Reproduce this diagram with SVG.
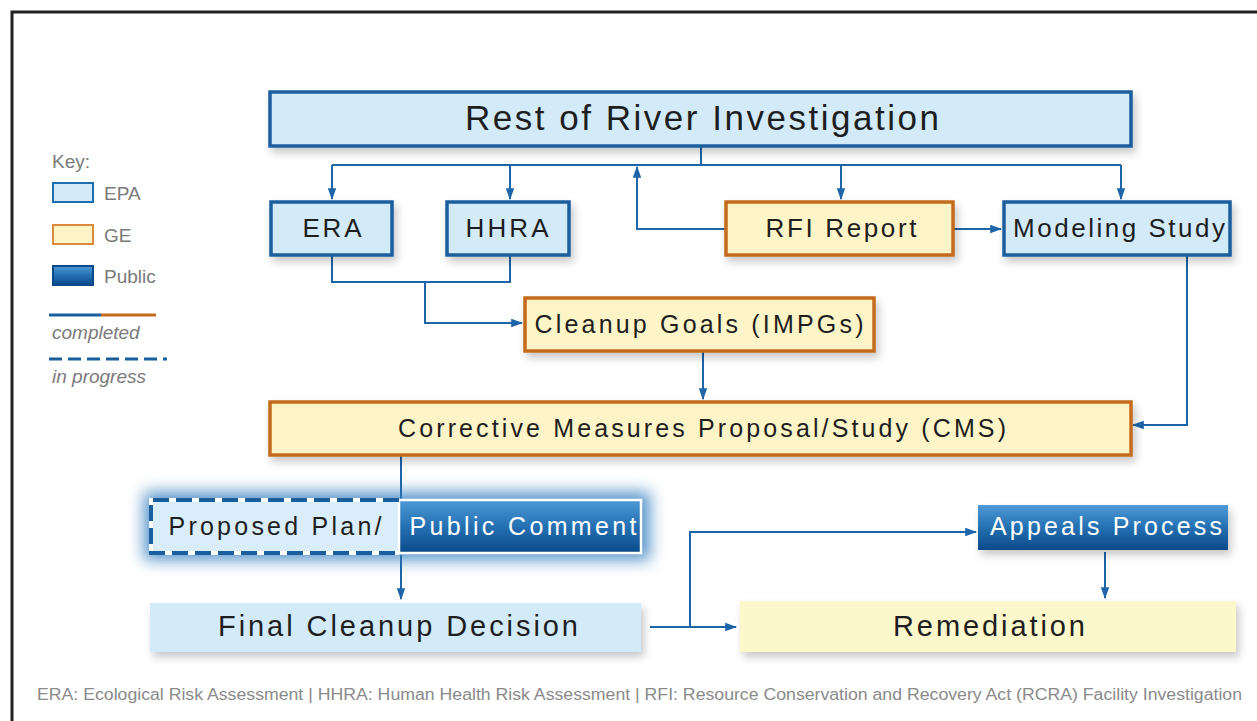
<svg xmlns="http://www.w3.org/2000/svg" width="1257" height="721" viewBox="0 0 1257 721">
<style>
.epa{fill:#d3ebf8;stroke:#1b5e9e;stroke-width:3.5}
.ge{fill:#fdf5c8;stroke:#c46b1c;stroke-width:3.5}
.t{font-family:"Liberation Sans",Arial,sans-serif;fill:#1e1e1e;text-anchor:middle}
.w{fill:#ffffff}
.k{font-family:"Liberation Sans",Arial,sans-serif;fill:#7a7a7a;font-size:19px}
.c{fill:none;stroke:#1e64a8;stroke-width:2}
</style>
<defs>
<filter id="sh" x="-10%" y="-20%" width="130%" height="160%">
<feDropShadow dx="3" dy="5" stdDeviation="4" flood-color="#000" flood-opacity="0.22"/>
</filter>
<filter id="glow" x="-20%" y="-50%" width="140%" height="200%">
<feGaussianBlur stdDeviation="8"/>
</filter>
<linearGradient id="pub" x1="0" y1="0" x2="0" y2="1">
<stop offset="0" stop-color="#4f9ad6"/>
<stop offset="0.5" stop-color="#2470b2"/>
<stop offset="1" stop-color="#0b4a8a"/>
</linearGradient>
<marker id="ah2" viewBox="0 0 10 10" refX="9" refY="5" markerWidth="12" markerHeight="12" orient="auto" markerUnits="userSpaceOnUse">
<path d="M0,1.5 L10,5 L0,8.5 Z" fill="#1e64a8"/>
</marker>
</defs>
<rect width="1257" height="721" fill="#ffffff"/>
<path d="M12,721 V12 H1257" fill="none" stroke="#222" stroke-width="3"/>

<g id="key">
<text class="k" x="52" y="168">Key:</text>
<rect x="53" y="183" width="40" height="19" fill="#d3ebf8" stroke="#1b6fb0" stroke-width="2"/>
<text class="k" x="104" y="200">EPA</text>
<rect x="53" y="225" width="40" height="19" fill="#fdf5c8" stroke="#d98a3a" stroke-width="2"/>
<text class="k" x="104" y="242">GE</text>
<rect x="53" y="266" width="40" height="19" fill="url(#pub)" stroke="#0b4a8a" stroke-width="2"/>
<text class="k" x="104" y="283">Public</text>
<line x1="49" y1="315" x2="101" y2="315" stroke="#1b5e9e" stroke-width="3"/>
<line x1="101" y1="315" x2="156" y2="315" stroke="#c46b1c" stroke-width="3"/>
<text class="k" x="52" y="339" font-style="italic" font-size="20">completed</text>
<line x1="49" y1="359" x2="167" y2="359" stroke="#1b5e9e" stroke-width="3" stroke-dasharray="13,6"/>
<text class="k" x="52" y="383" font-style="italic" font-size="20">in progress</text>
</g>

<g id="connectors">
<path class="c" d="M701,146 V165 M332,165 H1121"/>
<path class="c" d="M332,165 V199" marker-end="url(#ah2)"/>
<path class="c" d="M510,165 V199" marker-end="url(#ah2)"/>
<path class="c" d="M841,165 V199" marker-end="url(#ah2)"/>
<path class="c" d="M1121,165 V199" marker-end="url(#ah2)"/>
<path class="c" d="M725,229 H637 V167" marker-end="url(#ah2)"/>
<path class="c" d="M953,229 H1001" marker-end="url(#ah2)"/>
<path class="c" d="M332,255 V282 H510 V255 M425,282 V323 H522" marker-end="url(#ah2)"/>
<path class="c" d="M703,351 V399" marker-end="url(#ah2)"/>
<path class="c" d="M1187,255 V425 H1133" marker-end="url(#ah2)"/>
<path class="c" d="M401,455 V500"/>
<path class="c" d="M401,555 V599" marker-end="url(#ah2)"/>
<path class="c" d="M650,627 H736" marker-end="url(#ah2)"/>
<path class="c" d="M690,627 V532 H976" marker-end="url(#ah2)"/>
<path class="c" d="M1105,552 V598" marker-end="url(#ah2)"/>
</g>

<g id="rest-of-river">
<rect class="epa" x="270" y="92" width="861" height="54" filter="url(#sh)"/>
<text class="t" x="702" y="130" font-size="35" textLength="474" lengthAdjust="spacing">Rest of River Investigation</text>
</g>
<g id="era">
<rect class="epa" x="271" y="202" width="121" height="53" filter="url(#sh)"/>
<text class="t" x="332" y="237" font-size="26" textLength="59" lengthAdjust="spacing">ERA</text>
</g>
<g id="hhra">
<rect class="epa" x="447" y="202" width="122" height="53" filter="url(#sh)"/>
<text class="t" x="507" y="237" font-size="26" textLength="83" lengthAdjust="spacing">HHRA</text>
</g>
<g id="rfi-report">
<rect class="ge" x="726" y="202" width="227" height="53" filter="url(#sh)"/>
<text class="t" x="841" y="237" font-size="26" textLength="151" lengthAdjust="spacing">RFI Report</text>
</g>
<g id="modeling-study">
<rect class="epa" x="1004" y="202" width="226" height="53" filter="url(#sh)"/>
<text class="t" x="1119" y="237" font-size="26" textLength="212" lengthAdjust="spacing">Modeling Study</text>
</g>
<g id="cleanup-goals">
<rect class="ge" x="525" y="298" width="349" height="53" filter="url(#sh)"/>
<text class="t" x="699" y="333" font-size="25" textLength="329" lengthAdjust="spacing">Cleanup Goals (IMPGs)</text>
</g>
<g id="cms">
<rect class="ge" x="270" y="402" width="861" height="53" filter="url(#sh)"/>
<text class="t" x="702" y="437" font-size="25" textLength="608" lengthAdjust="spacing">Corrective Measures Proposal/Study (CMS)</text>
</g>
<g id="proposed-plan">
<rect x="144" y="492" width="506" height="68" fill="#2a78bd" opacity="0.8" filter="url(#glow)"/>
<rect x="151" y="500" width="248" height="53" fill="#d9eefa"/>
<rect x="399" y="500" width="242" height="53" fill="url(#pub)" stroke="#ffffff" stroke-width="2.5"/>
<path d="M399,500 H151 V553 H399" fill="none" stroke="#ffffff" stroke-width="4"/>
<path d="M399,500 H151 V553 H399" fill="none" stroke="#1b5e9e" stroke-width="4" stroke-dasharray="16,7"/>
<text class="t" x="275" y="535" font-size="25" textLength="213" lengthAdjust="spacing">Proposed Plan/</text>
<text class="t w" x="523" y="535" font-size="25" textLength="227" lengthAdjust="spacing">Public Comment</text>
</g>
<g id="final-cleanup-decision">
<rect x="150" y="603" width="491" height="49" fill="#d3ebf8" filter="url(#sh)"/>
<text class="t" x="398" y="636" font-size="29" textLength="360" lengthAdjust="spacing">Final Cleanup Decision</text>
</g>
<g id="appeals-process">
<rect x="978" y="505" width="250" height="45" fill="url(#pub)" filter="url(#sh)"/>
<text class="t w" x="1106" y="535" font-size="25" textLength="232" lengthAdjust="spacing">Appeals Process</text>
</g>
<g id="remediation">
<rect x="740" y="601" width="496" height="51" fill="#fdf7cc" filter="url(#sh)"/>
<text class="t" x="989" y="636" font-size="29" textLength="192" lengthAdjust="spacing">Remediation</text>
</g>

<text x="37" y="700" font-family="'Liberation Sans',Arial,sans-serif" font-size="16" fill="#8a8a8a" textLength="1205" lengthAdjust="spacingAndGlyphs">ERA: Ecological Risk Assessment  |  HHRA: Human Health Risk Assessment  |  RFI: Resource Conservation and Recovery Act (RCRA) Facility Investigation</text>
</svg>
